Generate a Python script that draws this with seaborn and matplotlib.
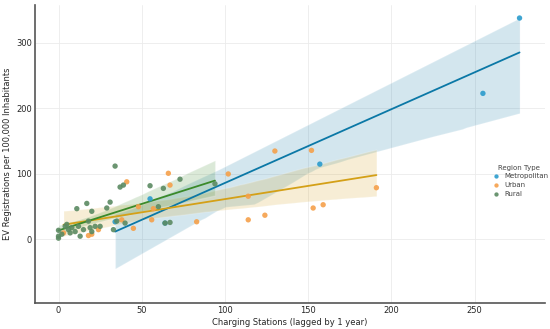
import matplotlib
matplotlib.use("Agg")
import matplotlib.pyplot as plt
import seaborn as sns
import pandas as pd
import numpy as np

metro_x = [34, 55, 64, 157, 255, 277]
metro_y = [27, 62, 25, 115, 223, 338]

urban_x = [3, 18, 20, 24, 38, 41, 45, 48, 56, 57, 66, 67, 83, 102, 114, 114, 124, 130, 152, 153, 159, 191]
urban_y = [10, 6, 8, 15, 30, 88, 17, 50, 30, 47, 101, 83, 27, 100, 30, 66, 37, 135, 136, 48, 53, 79]

rural_x = [0, 0, 0, 2, 4, 5, 6, 7, 8, 10, 11, 12, 13, 15, 17, 18, 19, 20, 20, 22, 25, 29, 31, 33, 34, 35,
           37, 39, 40, 55, 60, 63, 64, 67, 73, 94]
rural_y = [2, 5, 14, 8, 20, 23, 15, 10, 18, 12, 47, 20, 5, 15, 55, 28, 18, 12, 43, 20, 20, 48, 57, 15, 112, 28,
           80, 83, 25, 82, 50, 78, 25, 26, 92, 85]

regions = ["Metropolitan", "Urban", "Rural"]
point_colors = {"Metropolitan": "#2a9bcc", "Urban": "#f5a04a", "Rural": "#5b8a62"}
line_colors = {"Metropolitan": "#0b78a6", "Urban": "#d4a017", "Rural": "#3a8a2a"}
band_colors = {"Metropolitan": "#5aa8dc", "Urban": "#f5a070", "Rural": "#5ccf80"}

df = pd.concat([
    pd.DataFrame({"x": metro_x, "y": metro_y, "Region Type": "Metropolitan"}),
    pd.DataFrame({"x": urban_x, "y": urban_y, "Region Type": "Urban"}),
    pd.DataFrame({"x": rural_x, "y": rural_y, "Region Type": "Rural"}),
], ignore_index=True)

sns.set_style("whitegrid")
plt.rcParams["font.family"] = ["DejaVu Sans"]

fig, ax = plt.subplots(figsize=(5.5, 3.29), dpi=100)

for r in regions:
    sub = df[df["Region Type"] == r]
    sns.regplot(data=sub, x="x", y="y", ax=ax, scatter=False, ci=95, truncate=True, seed=7,
                line_kws={"color": line_colors[r], "lw": 1.3},
                color=band_colors[r])
for coll in ax.collections:
    coll.set_alpha(0.18)

sns.scatterplot(data=df, x="x", y="y", hue="Region Type", hue_order=regions,
                palette=point_colors, s=15, edgecolor="none", alpha=0.9, ax=ax, zorder=3)

ax.set_xlim(-14, 292)
ax.set_ylim(-97, 358)
ax.set_xticks([0, 50, 100, 150, 200, 250])
ax.set_yticks([0, 100, 200, 300])
ax.tick_params(labelsize=6, length=0, pad=2.5)
ax.set_xlabel("Charging Stations (lagged by 1 year)", fontsize=6, labelpad=2)
ax.set_ylabel("EV Registrations per 100,000 Inhabitants", fontsize=6, labelpad=3)
ax.grid(True, color="#ebebeb", lw=0.6)
for s in ["top", "right"]:
    ax.spines[s].set_visible(False)
for s in ["left", "bottom"]:
    ax.spines[s].set_color("#555555")
    ax.spines[s].set_linewidth(1.2)

leg = ax.legend(title="Region Type", loc="center right", bbox_to_anchor=(1.02, 0.41),
                frameon=False, fontsize=5, title_fontsize=5, markerscale=0.8,
                handletextpad=0.2, labelspacing=0.4)
for t in leg.get_texts():
    t.set_color("#444444")
leg.get_title().set_color("#444444")

fig.subplots_adjust(left=0.064, right=0.99, bottom=0.079, top=0.985)
fig.savefig("out.png", dpi=100)
